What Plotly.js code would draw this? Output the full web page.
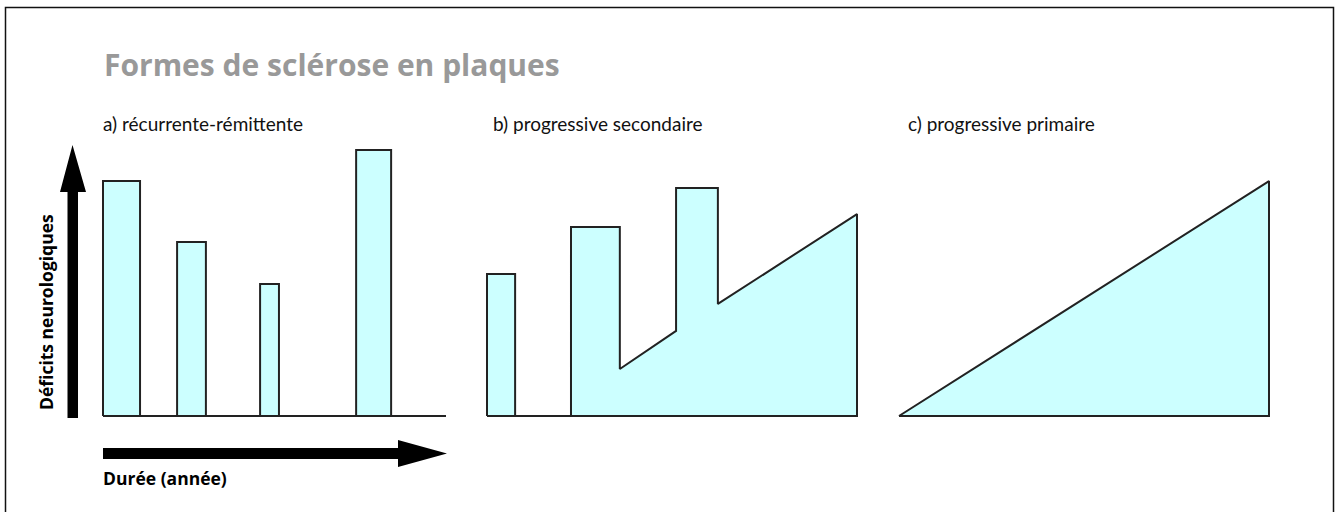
<!DOCTYPE html>
<html>
<head>
<meta charset="utf-8">
<script src="https://cdn.plot.ly/plotly-3.0.1.min.js"></script>
<style>html,body{margin:0;padding:0;background:#fff;}#chart{width:1338px;height:512px;}</style>
</head>
<body>
<div id="chart"></div>
<script>
// ---- Data (schematic units: x = time in years, y = neurological deficit level) ----
const chartTitle = "Formes de sclérose en plaques";
const panelTitles = ["a) récurrente-rémittente", "b) progressive secondaire", "c) progressive primaire"];
const yAxisLabel = "Déficits neurologiques";
const xAxisLabel = "Durée (année)";

// a) relapsing-remitting: isolated relapses
const rrStart  = [0, 2.16, 4.58, 7.38];
const rrEnd    = [1.08, 3.0, 5.13, 8.40];
const rrHeight = [8.7, 6.44, 4.89, 9.85];

// b) secondary progressive: one early relapse then progressive course with relapses
const spRelapseStart  = [0];
const spRelapseEnd    = [0.76];
const spRelapseHeight = [5.26];
const spCourseX = [2.27, 2.27, 3.59, 3.59, 5.11, 5.11, 6.24, 6.24, 10, 10];
const spCourseY = [0, 7.0, 7.0, 1.74, 3.15, 8.44, 8.44, 4.15, 7.48, 0];

// c) primary progressive: steady increase
const ppX = [0, 10, 10];
const ppY = [0, 8.7, 0];

const baselineX = [0, 10];
const baselineY = [0, 0];

// ---- Styling / layout ----
const W = 1338, H = 512;
const FILL = '#ccffff', LINE = '#222222', LW = 2;
const fx = p => p / W, fy = p => 1 - p / H;

function barTrace(s, e, h, xa, ya) {
  const x = [], y = [];
  for (let i = 0; i < s.length; i++) {
    x.push(s[i], s[i], e[i], e[i], s[i], null);
    y.push(0, h[i], h[i], 0, 0, null);
  }
  return {x, y, xaxis: xa, yaxis: ya, type: 'scatter', mode: 'lines', fill: 'toself',
          fillcolor: FILL, line: {color: LINE, width: LW}, hoverinfo: 'skip', showlegend: false};
}
function lineTrace(x, y, xa, ya, closed) {
  return {x: closed ? x.concat([x[0]]) : x, y: closed ? y.concat([y[0]]) : y, xaxis: xa, yaxis: ya,
          type: 'scatter', mode: 'lines', fill: closed ? 'toself' : 'none', fillcolor: FILL,
          line: {color: LINE, width: LW}, hoverinfo: 'skip', showlegend: false};
}

const traces = [
  lineTrace(baselineX, baselineY, 'x', 'y', false),
  barTrace(rrStart, rrEnd, rrHeight, 'x', 'y'),
  lineTrace(baselineX, baselineY, 'x2', 'y2', false),
  barTrace(spRelapseStart, spRelapseEnd, spRelapseHeight, 'x2', 'y2'),
  lineTrace(spCourseX, spCourseY, 'x2', 'y2', true),
  lineTrace(ppX, ppY, 'x3', 'y3', true)
];

// pixel placement of each panel (origin px, px per unit)
const panels = [{x0: 103, k: 34.3}, {x0: 487, k: 37}, {x0: 899, k: 37}];
const yBase = 416, yK = 27, xr = [-0.2, 10.2], yr = [-0.3, 10];
function xDomain(p) { return [fx(p.x0 + xr[0] * p.k), fx(p.x0 + xr[1] * p.k)]; }
const yDomain = [fy(yBase - yr[0] * yK), fy(yBase - yr[1] * yK)];
const hidden = {showgrid: false, zeroline: false, showticklabels: false, showline: false, ticks: '', fixedrange: true};

function pathFrom(pts) {
  return 'M ' + pts.map(p => fx(p[0]).toFixed(5) + ',' + fy(p[1]).toFixed(5)).join(' L ') + ' Z';
}
const vArrow = [[67.5,418],[67.5,192],[60,192],[72.5,145],[86,192],[78,192],[78,418]];
const hArrow = [[103,448],[398,448],[398,440],[447,453.5],[398,467],[398,459],[103,459]];

const subFont = {family: 'Lato, sans-serif', size: 19, color: '#111'};
const labFont = {family: 'Open Sans, sans-serif', size: 17.5, color: '#000'};

const layout = {
  width: W, height: H, margin: {l: 0, r: 0, t: 0, b: 0},
  paper_bgcolor: '#ffffff', plot_bgcolor: 'rgba(0,0,0,0)', showlegend: false,
  xaxis:  Object.assign({domain: xDomain(panels[0]), range: xr, anchor: 'y'}, hidden),
  yaxis:  Object.assign({domain: yDomain, range: yr, anchor: 'x'}, hidden),
  xaxis2: Object.assign({domain: xDomain(panels[1]), range: xr, anchor: 'y2'}, hidden),
  yaxis2: Object.assign({domain: yDomain, range: yr, anchor: 'x2'}, hidden),
  xaxis3: Object.assign({domain: xDomain(panels[2]), range: xr, anchor: 'y3'}, hidden),
  yaxis3: Object.assign({domain: yDomain, range: yr, anchor: 'x3'}, hidden),
  shapes: [
    {type: 'rect', xref: 'paper', yref: 'paper', x0: fx(5.5), x1: fx(1333.5), y0: -0.05, y1: fy(7.5),
     line: {color: '#111', width: 1.5}, fillcolor: 'rgba(0,0,0,0)', layer: 'below'},
    {type: 'path', xref: 'paper', yref: 'paper', path: pathFrom(vArrow), fillcolor: '#000', line: {width: 0}},
    {type: 'path', xref: 'paper', yref: 'paper', path: pathFrom(hArrow), fillcolor: '#000', line: {width: 0}}
  ],
  annotations: [
    {text: '<b>' + chartTitle + '</b>', xref: 'paper', yref: 'paper', x: fx(102), y: fy(64),
     xanchor: 'left', yanchor: 'middle', showarrow: false,
     font: {family: 'Open Sans, sans-serif', size: 30, color: '#999999'}},
    {text: panelTitles[0], xref: 'paper', yref: 'paper', x: fx(100.5), y: fy(123), xanchor: 'left', yanchor: 'middle',
     showarrow: false, font: subFont},
    {text: panelTitles[1], xref: 'paper', yref: 'paper', x: fx(490.5), y: fy(123), xanchor: 'left', yanchor: 'middle',
     showarrow: false, font: subFont},
    {text: panelTitles[2], xref: 'paper', yref: 'paper', x: fx(905.5), y: fy(123), xanchor: 'left', yanchor: 'middle',
     showarrow: false, font: subFont},
    {text: '<b>' + yAxisLabel + '</b>', xref: 'paper', yref: 'paper', x: fx(46), y: fy(312), xanchor: 'center', yanchor: 'middle',
     textangle: -90, showarrow: false, font: labFont},
    {text: '<b>' + xAxisLabel + '</b>', xref: 'paper', yref: 'paper', x: fx(101), y: fy(478), xanchor: 'left', yanchor: 'middle',
     showarrow: false, font: labFont}
  ]
};

Plotly.newPlot('chart', traces, layout, {staticPlot: true, displayModeBar: false});
</script>
</body>
</html>
